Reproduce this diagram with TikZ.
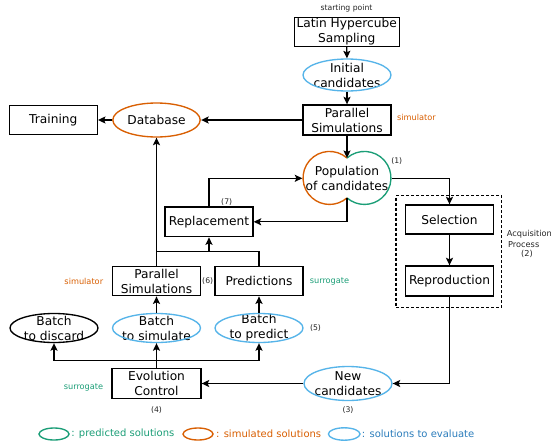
\documentclass[tikz,border=0pt]{standalone}
\usepackage{fontspec}
\setmainfont{DejaVu Sans}
\usetikzlibrary{shapes.geometric,arrows.meta}
\definecolor{cor}{HTML}{D95F02}
\definecolor{cgr}{HTML}{1B9E77}
\definecolor{cbl}{HTML}{56B4E9}
\definecolor{cblt}{HTML}{2B7DBC}
\newcommand\mfs{\fontsize{12.2}{15}\selectfont}
\begin{document}
\begin{tikzpicture}[x=1pt,y=-1pt,line width=1.35pt,
  >={Stealth[length=7.5pt,width=7pt,inset=1.5pt]},
  box/.style={draw,rectangle,minimum width=88pt,minimum height=29pt,inner sep=0pt,align=center,font=\mfs},
  elt/.style={rectangle,minimum width=88pt,minimum height=#1,inner sep=0pt,align=center,font=\mfs},
  lbl/.style={inner sep=0pt,font=\fontsize{7.7}{9}\selectfont,text=black!85},
  slbl/.style={inner sep=0pt,font=\fontsize{8.2}{10}\selectfont},
  leg/.style={inner sep=0pt,anchor=west,font=\fontsize{10}{12}\selectfont}]
\useasboundingbox (0,0) rectangle (552,442);
\fill[white] (0,0) rectangle (552,442);
\clip (0,0) rectangle (552,442);

% boxes
\node[box,minimum width=105pt] (lhs) at (346.7,31.8) {Latin Hypercube\\Sampling};
\node[lbl] (sp) at (346.5,8) {starting point};
\node[elt=32pt] (init) at (347,75) {Initial\\candidates};
\draw[cbl] (init.center) ellipse [x radius=44pt,y radius=16pt];
\node[box,minimum height=30pt] (psimt) at (347,120) {Parallel\\Simulations};
\node[slbl,text=cor] (simt) at (416.5,117) {simulator};
\node[box] (train) at (53.3,120) {Training};
\node[elt=34pt] (db) at (156.5,120) {Database};
\draw[cor] (db.center) ellipse [x radius=43.7pt,y radius=17pt];

% population
\node[elt=40pt] (pop) at (347,178.3) {Population\\of candidates};
\coordinate (popN) at (347,158);
\coordinate (popS) at (347,198);
\draw[cor] (popN) arc[start angle=48.8,end angle=311.2,radius=26.5pt];
\draw[cgr] (popN) arc[start angle=131.2,end angle=-131.2,radius=26.5pt];
\node[lbl] (l1) at (396.7,161) {(1)};

\node[box,minimum height=29.7pt] (repl) at (209,221.8) {Replacement};
\node[lbl] (l7) at (226.7,202) {(7)};
\node[box] (psim) at (156.5,281.2) {Parallel\\Simulations};
\node[box] (pred) at (259,281.2) {Predictions};
\node[lbl] (l6) at (207.7,281.5) {(6)};
\node[slbl,text=cor] (simb) at (83.8,281) {simulator};
\node[slbl,text=cgr] (surr1) at (329.5,281) {surrogate};

% acquisition
\node[draw,dash pattern=on 3pt off 2pt,rectangle,minimum width=105.7pt,minimum height=111.6pt,inner sep=0pt] (acq) at (448.9,251.5) {};
\node[box] (sel) at (449.5,219.5) {Selection};
\node[box,minimum height=30pt] (rep) at (449.5,281) {Reproduction};
\node[slbl,anchor=west,text=black!85] (aq1) at (506.3,234) {Acquisition};
\node[slbl,anchor=west,text=black!85] (aq2) at (507.5,244.3) {Process};
\node[slbl,text=black!85] (aq3) at (527,254.3) {(2)};

% batches
\node[elt=29pt] (bdis) at (54,328) {Batch\\to discard};
\draw[black] (bdis.center) ellipse [x radius=44pt,y radius=14.5pt];
\node[elt=29pt] (bsim) at (156.5,328) {Batch\\to simulate};
\draw[cbl] (bsim.center) ellipse [x radius=44pt,y radius=14.5pt];
\node[elt=29pt] (bpred) at (259,328) {Batch\\to predict};
\draw[cbl] (bpred.center) ellipse [x radius=44pt,y radius=14.5pt];
\node[lbl] (l5) at (315.5,328.3) {(5)};

\node[box,minimum width=89pt,minimum height=30pt] (evo) at (156.5,383.5) {Evolution\\Control};
\node[slbl,text=cgr] (surr2) at (83.5,387.3) {surrogate};
\node[lbl] (l4) at (156.5,410) {(4)};
\node[elt=34pt] (newc) at (348,383.5) {New\\candidates};
\draw[cbl] (newc.center) ellipse [x radius=44pt,y radius=17pt];
\node[lbl] (l3) at (348,410) {(3)};

% legend
\draw[cgr] (54,434) ellipse [x radius=15pt,y radius=6pt];
\node[leg,text=cgr] (lg1) at (70.7,434) {: predicted solutions};
\draw[cor] (198,434) ellipse [x radius=15pt,y radius=6pt];
\node[leg,text=cor] (lg2) at (215.5,434) {: simulated solutions};
\draw[cbl] (344.2,434) ellipse [x radius=15.8pt,y radius=6.2pt];
\node[leg,text=cblt] (lg3) at (361.3,434) {: solutions to evaluate};

% connectors
\draw[->] (lhs.south) -- (init.north);
\draw[->] (init.south) -- (psimt.north);
\draw[->] (psimt.south) -- (popN);
\draw[->] (psimt.west) -- (db.east);
\draw[->] (db.west) -- (train.east);
\draw[->] (pop.east) -| (sel.north);
\draw[->] (sel.south) -- (rep.north);
\draw[->] (rep.south) |- (newc.east);
\draw[->] (newc.west) -- (evo.east);
\coordinate (ec) at (156.5,360.7);
\draw[->] (evo.north) -- (bsim.south);
\draw[->] (ec) -| (bdis.south);
\draw[->] (ec) -| (bpred.south);
\draw[->] (bsim.north) -- (psim.south);
\draw[->] (bpred.north) -- (pred.south);
\draw[->] (psim.north) -- (db.south);
\coordinate (m0) at (156.5,251.7);
\coordinate (m1) at (209,251.7);
\draw (pred.north) |- (m0);
\draw[->] (m1) -- (repl.south);
\draw[->] (repl.north) |- (pop.west);
\draw[->] (popS) |- (repl.east);
\end{tikzpicture}
\end{document}
